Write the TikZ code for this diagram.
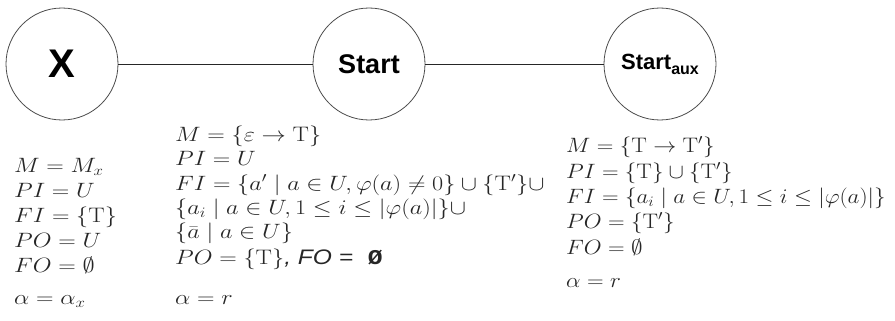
\documentclass[tikz,border=0pt]{standalone}
\usepackage{fontspec}
\usepackage{graphicx}
\newfontfamily\arialfont{Liberation Sans}
\newfontfamily\lmono{Liberation Mono}
\tikzset{
  state/.style={circle, draw=black!70, line width=0.8pt, minimum size=112pt, inner sep=0pt},
  link/.style={draw=black!85, line width=0.9pt},
  mline/.style={anchor=base west, inner sep=0pt, text=black!85, font=\fontsize{21}{25}\selectfont},
}
\newcommand{\hs}[1]{\scalebox{1.17}[1]{#1}}
\newcommand{\hr}[1]{\scalebox{1.11}[1]{#1}}
\begin{document}
\begin{tikzpicture}[x=1pt,y=-1pt]
\useasboundingbox (0,0) rectangle (895,321);
% states
\node[state] (X) at (62,64) {\arialfont\bfseries\fontsize{40}{40}\selectfont X};
\node[state] (S) at (369,64) {\arialfont\bfseries\fontsize{27}{27}\selectfont Start};
\node[state] (A) at (660,64) {\arialfont\bfseries\fontsize{22}{22}\selectfont Start\raisebox{-5pt}{\fontsize{16}{16}\selectfont aux}};
\draw[link] (X) -- (S);
\draw[link] (S) -- (A);
% left block
\node[mline] (l1) at (14,172) {\hs{$M = M_x$}};
\node[mline] (l2) at (14,197) {\hs{$PI = U$}};
\node[mline] (l3) at (14,222) {\hs{$FI = \{\mathrm{T}\}$}};
\node[mline] (l4) at (14,247) {\hs{$PO = U$}};
\node[mline] (l5) at (14,272) {\hs{$FO = \emptyset$}};
\node[mline] (l6) at (14,304) {\hs{$\alpha = \alpha_x$}};
% middle block
\node[mline] (m1) at (175,141) {\hs{$M = \{\varepsilon \to \mathrm{T}\}$}};
\node[mline] (m2) at (175,165) {\hs{$PI = U$}};
\node[mline] (m3) at (175,190) {\hs{$FI = \{a' \mid a \in U, \varphi(a) \neq 0\} \cup \{\mathrm{T}'\}\cup$}};
\node[mline] (m4) at (175,214) {\hs{$\{a_i \mid a \in U, 1 \leq i \leq |\varphi(a)|\}\cup$}};
\node[mline] (m5) at (175,238) {\hs{$\{\bar{a} \mid a \in U\}$}};
\node[mline] (m6) at (175,264) {\hs{$PO = \{\mathrm{T}\}${\arialfont\itshape , FO =}\hspace{0.6em}{\lmono\bfseries Ø}}};
\node[mline] (m7) at (175,304) {\hs{$\alpha = r$}};
% right block
\node[mline] (r1) at (566,152) {\hr{$M = \{\mathrm{T} \to \mathrm{T}'\}$}};
\node[mline] (r2) at (566,178) {\hr{$PI = \{\mathrm{T}\} \cup \{\mathrm{T}'\}$}};
\node[mline] (r3) at (566,203) {\hr{$FI = \{a_i \mid a \in U, 1 \leq i \leq |\varphi(a)|\}$}};
\node[mline] (r4) at (566,228) {\hr{$PO = \{\mathrm{T}'\}$}};
\node[mline] (r5) at (566,254) {\hr{$FO = \emptyset$}};
\node[mline] (r6) at (566,287) {\hr{$\alpha = r$}};
\end{tikzpicture}
\end{document}
